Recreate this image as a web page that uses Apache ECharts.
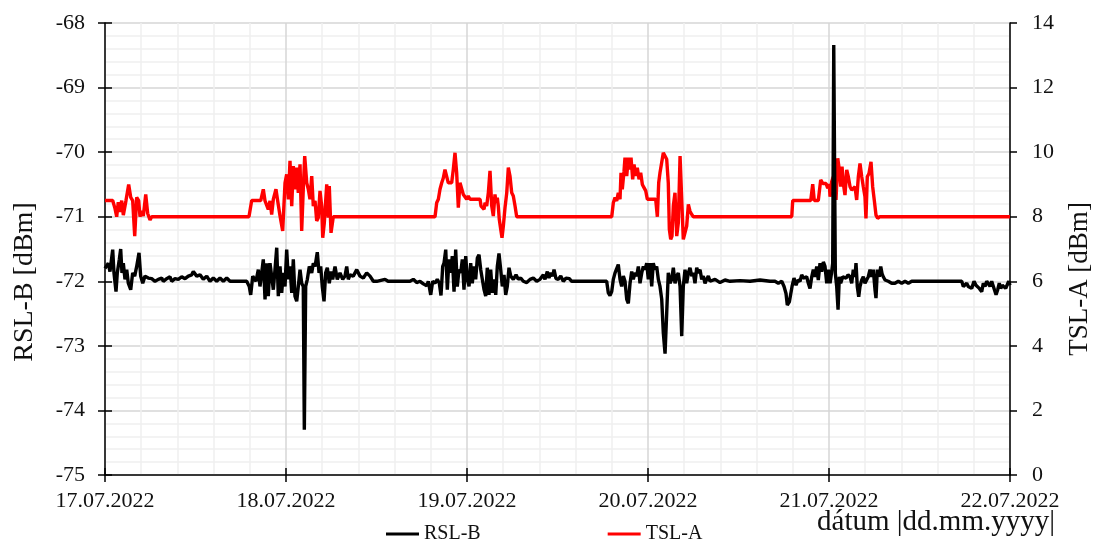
<!DOCTYPE html>
<html>
<head>
<meta charset="utf-8">
<script src="https://cdn.jsdelivr.net/npm/echarts@6/dist/echarts.min.js"></script>
<style>
html,body{margin:0;padding:0;background:#fff;}
#chart{width:1095px;height:542px;}
</style>
</head>
<body>
<div id="chart"></div>
<script>
// Date tick labels (x axis in hours from 17.07.2022 00:00)
const dateLabels = ['17.07.2022','18.07.2022','19.07.2022','20.07.2022','21.07.2022','22.07.2022'];

// RSL-B [dBm] : [hour, value]
const rslB = [
[0,-71.8],[0.13,-71.77],[0.44,-71.72],[0.66,-71.85],[1.02,-71.51],[1.19,-71.87],[1.46,-72.16],[1.63,-71.87],[1.90,-71.66],[2.08,-71.5],[2.25,-71.87],[2.43,-71.72],[2.65,-71.97],[2.88,-71.82],[3.09,-72.03],[3.41,-72.13],[3.67,-71.87],[3.94,-71.92],[4.20,-71.77],[4.51,-71.56],[4.73,-71.92],[5.00,-72.03],[5.30,-71.92],[5.74,-71.95],[6.19,-71.96],[6.63,-72.0],[7.07,-71.97],[7.52,-71.95],[7.73,-72.0],[8.18,-71.96],[8.62,-71.93],[8.84,-72.0],[9.28,-71.96],[9.72,-71.97],[10.17,-71.93],[10.61,-71.96],[11.05,-71.92],[11.50,-71.9],[11.71,-71.85],[12.16,-71.92],[12.60,-71.9],[13.03,-71.97],[13.49,-71.92],[13.92,-72.0],[14.36,-71.95],[14.81,-72.0],[15.25,-71.95],[15.69,-72.0],[16.14,-71.95],[16.58,-72.0],[18.79,-72.0],
[19.13,-72.08],[19.32,-72.21],[19.59,-71.92],[19.76,-71.9],[20.02,-72.0],[20.33,-71.82],[20.55,-72.08],[20.78,-71.87],[20.99,-71.66],[21.22,-72.28],[21.44,-71.72],[21.65,-72.23],[21.88,-71.72],[22.10,-71.72],[22.32,-72.13],[22.54,-71.82],[22.77,-71.48],[22.98,-72.23],[23.21,-71.77],[23.43,-72.18],[23.64,-71.87],[23.87,-72.08],[24.09,-71.51],[24.31,-71.97],[24.53,-71.77],[24.76,-72.18],[24.97,-71.66],[25.19,-72.23],[25.42,-72.31],[25.63,-72.08],[25.86,-71.82],[26.08,-72.03],[26.29,-72.08],[26.43,-74.3],[26.61,-72.08],[26.83,-71.97],[27.09,-71.77],[27.41,-71.87],[27.62,-71.72],[27.85,-71.77],[28.15,-71.55],[28.38,-71.87],[28.60,-71.77],[28.81,-72.08],[29.04,-72.31],[29.26,-71.87],[29.48,-71.79],[29.74,-72.03],[29.97,-71.85],[30.19,-71.97],[30.50,-71.77],[30.80,-71.97],[31.16,-71.87],[31.52,-71.97],[31.82,-71.92],[32.05,-71.77],[32.26,-71.97],[32.49,-71.9],[32.92,-71.92],[33.38,-71.82],[33.81,-71.92],[34.25,-71.95],[34.70,-71.87],[35.14,-71.92],[35.58,-72.0],[36.03,-72.0],[37.13,-71.97],[37.53,-72.0],
[40.44,-72.0],[40.88,-71.97],[41.33,-72.02],[41.77,-72.0],[42.21,-72.04],[42.66,-72.07],[42.87,-72.0],[43.19,-72.21],[43.45,-72.0],[43.76,-72.03],[44.06,-71.97],[44.33,-72.03],[44.55,-72.22],[44.78,-71.77],[44.95,-71.72],[45.18,-71.51],[45.39,-72.13],[45.61,-71.66],[45.84,-71.87],[46.05,-71.61],[46.28,-72.16],[46.50,-71.51],[46.71,-72.08],[46.94,-71.82],[47.17,-71.87],[47.38,-71.66],[47.60,-72.13],[47.83,-71.61],[48.04,-71.97],[48.27,-72.08],[48.49,-71.72],[48.70,-72.03],[48.93,-71.77],[49.15,-71.97],[49.37,-71.64],[49.59,-71.59],[49.82,-71.82],[50.03,-71.85],[50.26,-72.13],[50.48,-72.23],[50.69,-71.79],[50.92,-72.21],[51.14,-71.82],[51.36,-72.18],[51.58,-71.97],[51.81,-72.21],[52.02,-71.77],[52.24,-71.57],[52.47,-71.82],[52.68,-72.08],[52.91,-71.9],[53.13,-72.21],[53.34,-72.08],[53.57,-71.79],[53.80,-71.92],[54.14,-71.97],[54.50,-71.9],[54.80,-71.97],[55.12,-71.95],[55.47,-72.0],[55.92,-72.02],[56.36,-71.97],[56.79,-71.95],[57.24,-72.0],[57.68,-71.97],[58.12,-71.9],[58.34,-71.97],[58.65,-71.85],[58.87,-71.95],[59.10,-71.87],[59.36,-71.92],[59.54,-71.82],[59.80,-71.96],[60.11,-71.97],[60.43,-71.92],[60.77,-72.0],[61.13,-71.95],[61.57,-71.96],[61.88,-72.0],[66.52,-72.0],
[66.74,-72.18],[66.96,-72.22],[67.19,-72.16],[67.40,-71.97],[67.63,-71.87],[67.85,-71.85],[68.06,-71.74],[68.29,-71.97],[68.51,-72.08],[68.73,-71.92],[68.95,-72.0],[69.18,-72.28],[69.39,-72.34],[69.62,-72.03],[69.84,-71.85],[70.05,-71.97],[70.28,-71.87],[70.50,-71.92],[70.72,-71.77],[70.94,-72.03],[71.17,-71.87],[71.38,-71.77],[71.60,-71.82],[71.83,-71.72],[72.04,-71.97],[72.27,-71.72],[72.49,-72.08],[72.70,-71.72],[72.93,-71.82],[73.15,-71.77],[73.37,-71.97],[73.59,-72.08],[73.82,-72.28],[74.03,-72.8],[74.26,-73.12],[74.48,-72.49],[74.69,-71.87],[74.92,-72.03],[75.14,-71.97],[75.36,-71.79],[75.58,-72.03],[75.81,-71.92],[76.02,-71.87],[76.25,-72.08],[76.47,-72.85],[76.68,-72.08],[76.91,-71.82],[77.13,-72.03],[77.35,-71.87],[77.57,-71.79],[77.80,-71.92],[78.01,-71.87],[78.23,-72.03],[78.46,-71.79],[78.67,-71.87],[78.90,-71.82],[79.12,-71.97],[79.33,-71.92],[79.56,-72.03],[79.78,-71.97],[80.00,-71.92],[80.22,-72.0],[80.89,-71.97],[81.55,-72.02],[82.21,-71.98],[82.88,-72.0],[84.20,-71.99],[85.53,-72.0],[86.86,-71.98],[88.18,-72.0],
[88.84,-72.0],[89.28,-72.03],[89.73,-72.0],[90.04,-72.08],[90.30,-72.19],[90.47,-72.37],[90.74,-72.32],[90.92,-72.32],[91.10,-72.08],[91.36,-71.95],[91.63,-72.06],[91.89,-71.98],[92.16,-72.0],[92.38,-71.9],[92.59,-71.95],[92.82,-71.95],[93.04,-71.93],[93.26,-72.03],[93.48,-72.11],[93.71,-71.93],[93.92,-71.82],[94.15,-71.93],[94.37,-71.77],[94.58,-71.98],[94.81,-71.72],[95.03,-71.85],[95.25,-71.7],[95.47,-71.77],[95.70,-72.03],[95.91,-71.82],[96.14,-72.03],[96.36,-71.85],[96.49,-71.72],[96.63,-68.34],[96.84,-71.88],[97.02,-72.08],[97.20,-72.44],[97.37,-71.93],[97.55,-72.03],[97.82,-71.93],[97.99,-71.93],[98.26,-71.95],[98.52,-71.9],[98.79,-71.93],[99.01,-72.03],[99.22,-71.82],[99.45,-71.93],[99.58,-71.72],[99.75,-72.08],[99.94,-72.24],[100.11,-72.08],[100.34,-71.98],[100.55,-71.93],[100.77,-72.03],[101.00,-72.03],[101.21,-71.93],[101.44,-71.82],[101.66,-71.93],[101.87,-71.82],[102.10,-72.13],[102.23,-72.26],[102.41,-71.82],[102.67,-71.93],[102.86,-71.77],[103.03,-71.88],[103.20,-71.93],[103.43,-71.98],[103.86,-72.0],[104.31,-72.03],[104.75,-72.03],[105.19,-72.0],[105.64,-72.03],[106.08,-72.0],[106.52,-72.03],[106.97,-72.0],[113.60,-72.0],
[113.81,-72.08],[114.04,-72.11],[114.26,-72.03],[114.47,-72.08],[114.70,-72.06],[114.92,-72.11],[115.23,-72.0],[115.49,-72.06],[115.66,-72.03],[115.93,-72.11],[116.25,-72.16],[116.46,-72.03],[116.69,-72.08],[116.91,-72.0],[117.12,-72.03],[117.35,-72.08],[117.57,-72.0],[117.79,-72.03],[118.15,-72.21],[118.37,-72.13],[118.58,-72.03],[118.77,-72.11],[118.98,-72.06],[119.21,-72.03],[119.43,-72.11],[119.64,-72.08],[119.83,-72.0],[120,-72.06]
];

// TSL-A [dBm] : [hour, value]
const tslA = [
[0,8.5],[1.02,8.5],[1.33,8.25],[1.55,8.0],[1.76,8.45],[1.99,8.15],[2.21,8.5],[2.43,8.05],[2.78,8.5],[3.14,9.0],[3.41,8.6],[3.67,8.5],[3.94,7.4],[4.20,8.6],[4.47,8.5],[4.64,8.0],[4.87,8.18],[5.08,8.02],[5.40,8.69],[5.66,8.1],[5.97,7.9],[6.19,8.0],
[19.09,8.0],[19.45,8.5],[20.65,8.5],[20.99,8.85],[21.22,8.49],[21.44,8.54],[21.65,8.23],[21.88,8.49],[22.10,8.07],[22.32,8.54],[22.67,8.85],[22.90,8.49],[23.21,8.02],[23.56,7.56],[23.87,9.05],[24.09,9.31],[24.31,8.54],[24.53,9.73],[24.76,8.33],[24.97,9.57],[25.19,8.85],[25.42,9.52],[25.63,8.74],[25.86,9.62],[26.08,7.56],[26.29,8.85],[26.48,9.88],[26.75,9.05],[26.96,8.85],[27.18,8.54],[27.41,9.26],[27.62,8.33],[27.85,8.49],[28.07,7.87],[28.28,7.97],[28.51,8.8],[28.73,8.33],[28.87,7.35],[29.08,7.81],[29.40,9.0],[29.61,7.97],[29.74,8.95],[29.97,7.5],[30.27,8.0],
[43.76,8.0],[43.98,8.43],[44.20,8.54],[44.42,8.85],[44.65,9.05],[44.86,9.2],[45.08,9.46],[45.31,9.52],[45.52,9.05],[45.75,9.0],[45.97,9.05],[46.18,9.46],[46.41,9.98],[46.63,9.36],[46.85,8.28],[47.07,9.05],[47.30,9.05],[47.51,8.69],[47.74,8.64],[47.96,8.54],[48.17,8.64],[48.40,8.54],[48.84,8.54],[49.29,8.54],[49.73,8.54],[49.86,8.33],[50.08,8.38],[50.26,8.23],[50.39,8.43],[50.61,8.33],[50.83,8.74],[51.05,9.42],[51.28,8.33],[51.49,8.02],[51.71,8.69],[51.85,8.43],[52.02,8.59],[52.15,8.33],[52.28,7.92],[52.47,7.61],[52.64,7.35],[52.82,7.71],[53.04,8.28],[53.27,8.74],[53.48,9.52],[53.70,9.26],[53.93,8.74],[54.14,8.64],[54.37,8.33],[54.59,8.0],
[67.19,8.0],[67.40,8.43],[67.63,8.59],[67.85,8.49],[68.06,8.74],[68.29,8.54],[68.42,9.36],[68.59,8.85],[68.82,9.41],[68.95,9.83],[69.18,9.26],[69.39,9.83],[69.62,9.46],[69.75,9.83],[69.97,9.16],[70.15,9.62],[70.37,9.26],[70.58,9.52],[70.81,9.16],[71.03,9.36],[71.25,9.0],[71.47,8.9],[71.70,8.8],[71.91,8.54],[72.27,8.54],[72.70,8.54],[73.02,8.54],[73.24,8.0],[73.42,9.05],[73.59,9.36],[73.82,9.36],[74.03,9.98],[74.26,10.0],[74.48,9.78],[74.69,9.05],[74.83,7.61],[75.01,7.3],[75.18,7.4],[75.36,8.33],[75.58,8.74],[75.81,7.4],[76.02,7.81],[76.25,9.88],[76.47,8.54],[76.68,7.3],[76.91,7.3],[77.13,7.71],[77.35,8.38],[77.57,8.17],[77.80,8.07],[78.01,8.0],
[91.06,8.0],[91.19,8.5],[93.58,8.5],[93.84,9.01],[94.05,8.5],[94.58,8.5],[94.90,9.14],[95.17,9.03],[95.38,8.98],[95.61,9.03],[95.83,8.88],[96.04,9.01],[96.14,8.62],[96.36,9.09],[96.57,9.24],[96.80,9.01],[96.93,8.52],[97.16,9.81],[97.37,9.45],[97.55,8.93],[97.73,9.55],[97.90,9.03],[98.12,8.67],[98.35,9.45],[98.56,9.24],[98.79,8.93],[99.01,8.83],[99.22,8.78],[99.45,8.93],[99.67,8.52],[99.89,9.24],[100.11,9.65],[100.34,9.24],[100.55,8.93],[100.77,8.62],[100.90,7.95],[101.08,9.24],[101.30,9.34],[101.57,9.7],[101.79,8.93],[102.00,8.52],[102.23,8.05],[102.45,7.95],[102.75,8.0],[114.1,8.0],[114.2,8.04],[114.3,8.0],[120,8.0]
];

const FONT = '"Liberation Serif", "Times New Roman", serif';
const axisLineStyle = { color: '#000', width: 1.5 };
const labelStyle = { fontFamily: FONT, fontSize: 22, color: '#111' };

const chart = echarts.init(document.getElementById('chart'), null, { renderer: 'canvas' });
chart.setOption({
  animation: false,
  backgroundColor: '#fff',
  grid: { left: 105, right: 85, top: 23, bottom: 67, containLabel: false },
  legend: {
    data: ['RSL-B', 'TSL-A'],
    left: 381, top: 519,
    icon: 'rect', itemWidth: 33, itemHeight: 3, itemGap: 127,
    textStyle: { fontFamily: FONT, fontSize: 20, color: '#111' }
  },
  graphic: [
    { type: 'text', x: 25, y: 282, rotation: Math.PI / 2,
      style: { text: 'RSL-B [dBm]', font: '28px ' + FONT, fill: '#111', textAlign: 'center', textVerticalAlign: 'middle' } },
    { type: 'text', x: 1080, y: 279, rotation: Math.PI / 2,
      style: { text: 'TSL-A [dBm]', font: '27px ' + FONT, fill: '#111', textAlign: 'center', textVerticalAlign: 'middle' } },
    { type: 'text', x: 1055, y: 522,
      style: { text: 'dátum |dd.mm.yyyy|', font: '29px ' + FONT, fill: '#111', textAlign: 'right', textVerticalAlign: 'middle' } }
  ],
  xAxis: [
    {
      type: 'value', min: 0, max: 120, interval: 24, position: 'bottom',
      axisLine: { show: true, onZero: false, lineStyle: axisLineStyle },
      axisTick: { show: true, length: 7, lineStyle: axisLineStyle },
      axisLabel: Object.assign({ margin: 15, formatter: v => dateLabels[Math.round(v / 24)] }, labelStyle),
      splitLine: { show: true, lineStyle: { color: '#d6d6d6', width: 1.5 } },
      minorTick: { show: false, splitNumber: 5 },
      minorSplitLine: { show: true, lineStyle: { color: '#efefef', width: 1.5 } }
    },
    {
      type: 'value', min: 0, max: 120, interval: 24, position: 'bottom',
      axisLine: { show: false },
      axisTick: { show: true, inside: true, length: 7, lineStyle: axisLineStyle },
      axisLabel: { show: false }, splitLine: { show: false }
    }
  ],
  yAxis: [
    {
      type: 'value', min: -75, max: -68, interval: 1, position: 'left',
      axisLine: { show: true, onZero: false, lineStyle: axisLineStyle },
      axisTick: { show: true, length: 7, lineStyle: axisLineStyle },
      axisLabel: Object.assign({ margin: 20 }, labelStyle),
      splitLine: { show: true, lineStyle: { color: '#d6d6d6', width: 1.5 } },
      minorTick: { show: false, splitNumber: 5 },
      minorSplitLine: { show: true, lineStyle: { color: '#efefef', width: 1.5 } }
    },
    {
      type: 'value', min: 0, max: 14, interval: 2, position: 'right',
      axisLine: { show: true, onZero: false, lineStyle: axisLineStyle },
      axisTick: { show: true, length: 7, lineStyle: axisLineStyle },
      axisLabel: Object.assign({ margin: 22 }, labelStyle),
      splitLine: { show: false }
    },
    {
      type: 'value', min: -75, max: -68, interval: 1, position: 'left',
      axisLine: { show: false },
      axisTick: { show: true, inside: true, length: 7, lineStyle: axisLineStyle },
      axisLabel: { show: false }, splitLine: { show: false }
    },
    {
      type: 'value', min: 0, max: 14, interval: 2, position: 'right',
      axisLine: { show: false },
      axisTick: { show: true, inside: true, length: 7, lineStyle: axisLineStyle },
      axisLabel: { show: false }, splitLine: { show: false }
    }
  ],
  series: [
    {
      name: 'RSL-B', type: 'line', xAxisIndex: 0, yAxisIndex: 0, data: rslB,
      showSymbol: false, symbol: 'none', z: 4,
      lineStyle: { color: '#000', width: 3.4 }, itemStyle: { color: '#000' }
    },
    {
      name: 'TSL-A', type: 'line', xAxisIndex: 0, yAxisIndex: 1, data: tslA,
      showSymbol: false, symbol: 'none', z: 3,
      lineStyle: { color: '#ff0000', width: 3.4 }, itemStyle: { color: '#ff0000' }
    }
  ]
});
</script>
</body>
</html>
